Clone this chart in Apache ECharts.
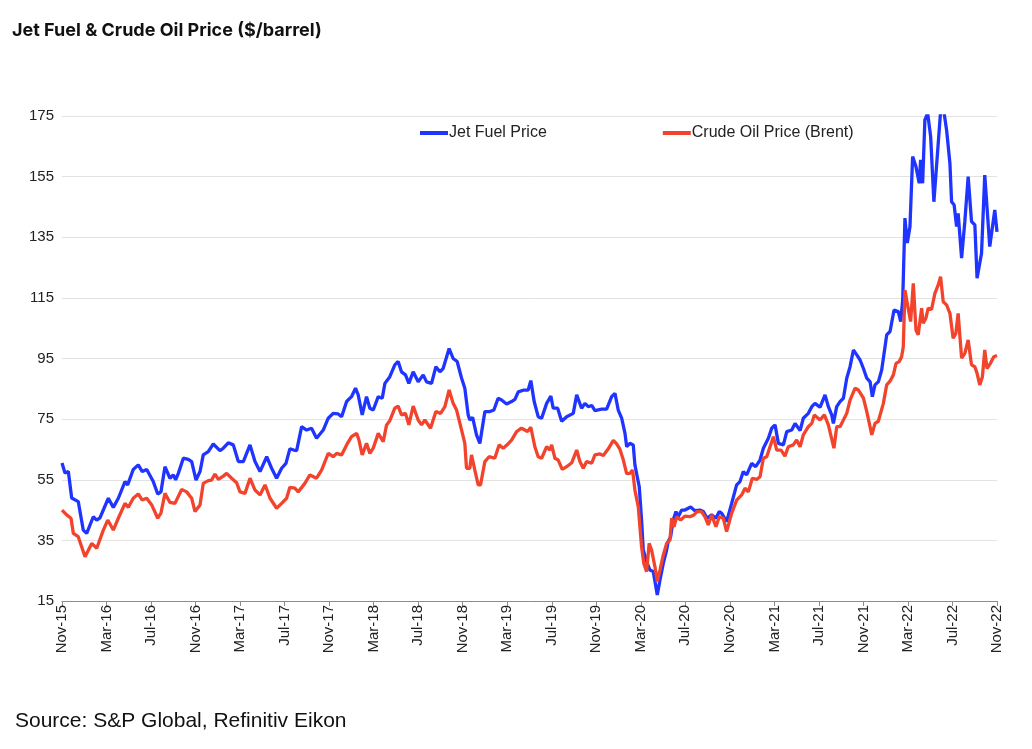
<!DOCTYPE html>
<html>
<head>
<meta charset="utf-8">
<script src="https://cdn.jsdelivr.net/npm/echarts@6/dist/echarts.min.js"></script>
<style>
html,body{margin:0;padding:0;background:#fff;}
#chart{width:1032px;height:749px;}
</style>
</head>
<body>
<div id="chart"></div>
<script>
// x = months since Nov-2015
const tickLabels = ['Nov-15','Mar-16','Jul-16','Nov-16','Mar-17','Jul-17','Nov-17','Mar-18','Jul-18','Nov-18','Mar-19','Jul-19','Nov-19','Mar-20','Jul-20','Nov-20','Mar-21','Jul-21','Nov-21','Mar-22','Jul-22','Nov-22'];

const jetFuel = [
[0,60.5],[0.27,57.2],[0.57,57.7],[0.87,49],[1.46,47.8],[1.91,38.4],[2.22,37.3],[2.81,42.8],[3.12,41.7],[3.41,42.4],
[4.16,48.9],[4.61,45.9],[5.06,48.9],[5.66,54.4],[5.9,53.3],[6.4,58.4],[6.85,59.9],[7.21,57.7],[7.61,58.4],[8.2,54.4],
[8.6,50.3],[8.89,51],[9.25,59.3],[9.7,55.5],[10.0,56.6],[10.21,55],[10.45,57.1],[10.9,62.1],[11.35,61.7],[11.65,61],
[12.04,54.9],[12.4,57.7],[12.69,63.2],[13.14,64.3],[13.59,66.8],[14.19,64.6],[14.49,65.4],[14.94,67.2],[15.39,66.5],[15.84,61],
[16.29,61],[16.89,66.5],[17.34,61],[17.79,57.7],[18.39,62.6],[18.83,58.8],[19.28,55.5],[19.73,58.8],[20.12,60.4],[20.47,65.2],
[20.83,64.8],[21.08,64.6],[21.53,72.5],[21.97,71.4],[22.42,72],[22.87,68.7],[23.47,71.4],[23.92,75.3],[24.36,76.9],[24.81,76.7],
[25.12,75.8],[25.57,80.8],[26.01,82.4],[26.37,85.2],[26.61,83],[26.97,76.4],[27.36,82.4],[27.66,78.6],[27.96,78],[28.41,82.4],
[28.77,81.9],[29.01,86.8],[29.45,89],[29.9,92.9],[30.2,94],[30.5,90.6],[30.86,89.6],[31.16,86.8],[31.55,90.6],[32.0,87.3],
[32.45,89.6],[32.75,87.3],[33.2,86.8],[33.59,92.3],[33.95,90.6],[34.24,91.7],[34.78,98.3],[35.14,95],[35.5,94],[35.9,88.5],
[36.19,85.2],[36.49,76.4],[36.64,74.7],[36.89,75.6],[37.24,69.8],[37.54,67],[37.99,77.5],[38.44,77.5],[38.8,78],[39.18,81.9],
[39.49,81.3],[39.94,80],[40.39,80.8],[40.69,81.5],[40.99,84],[41.5,84.6],[41.88,84.6],[42.12,87.7],[42.42,80.8],[42.78,75.8],
[43.09,75.3],[43.54,80.2],[43.92,82.6],[44.13,78.6],[44.53,78.6],[44.89,74.3],[45.34,75.8],[45.93,76.9],[46.24,83],[46.68,78.6],
[46.98,80.2],[47.28,79.1],[47.59,79.5],[47.88,77.8],[48.48,78.3],[48.93,78.3],[49.38,82.4],[49.68,83.5],[49.97,78],[50.28,75.3],
[50.58,70.3],[50.73,65.9],[51.02,67],[51.32,66.5],[51.47,59.9],[51.68,56],[51.86,52.7],[52.07,41.7],[52.22,31.8],[52.52,28],
[52.82,25.2],[53.12,24.7],[53.48,17],[53.72,21.9],[54.02,27.4],[54.32,31.8],[54.46,34.6],[54.68,36.2],[54.91,41.7],[55.16,44.5],
[55.36,42.8],[55.67,45],[55.96,45],[56.26,45.6],[56.48,46],[56.86,44.8],[57.31,45],[57.62,44.5],[57.96,42.3],[58.36,43.4],
[58.75,42.3],[59.05,44.5],[59.27,43.9],[59.71,41.2],[60.16,47.2],[60.61,53.3],[60.91,54.4],[61.21,57.7],[61.51,56.6],[61.96,60.4],
[62.32,59.3],[62.71,61.5],[63.01,65.4],[63.46,68.7],[63.76,72],[64.06,73.1],[64.36,67],[64.81,66.5],[65.11,70.9],[65.56,71.4],
[65.86,73.6],[66.31,71.2],[66.6,75.3],[67.05,76.9],[67.36,79.1],[67.65,80.2],[68.1,78.9],[68.55,83],[68.85,79.1],[69.15,76.4],
[69.3,73.6],[69.6,79.1],[69.9,80.8],[70.2,81.9],[70.5,88.5],[70.8,92.3],[71.1,97.8],[71.4,96.2],[71.7,94.5],[72.0,91.7],
[72.3,88.5],[72.6,87.3],[72.8,82.4],[73.04,86.3],[73.34,87.3],[73.64,91.2],[73.94,98.9],[74.09,102.8],[74.39,103.9],[74.75,111],
[75.13,110.5],[75.35,107.2],[75.53,114.3],[75.73,141.3],[75.94,133.1],[76.18,138.5],[76.42,161.6],[76.72,158.3],[77.01,152.8],[77.14,160.5],
[77.32,152.8],[77.52,173.7],[77.77,175.9],[78.04,168.2],[78.33,146.7],[78.72,166],[78.93,176.4],[79.23,176.4],[79.47,170.4],[79.77,159.4],
[79.92,146.7],[80.15,145.6],[80.37,138.5],[80.51,142.9],[80.82,128.1],[81.11,140.2],[81.41,155],[81.71,140.2],[82.01,139.1],[82.21,121.5],
[82.61,129.7],[82.9,155.5],[83.35,131.9],[83.8,144],[84,136.8]
];

const brent = [
[0,45],[0.42,43.4],[0.81,42.3],[1.02,37.3],[1.46,36.2],[2.07,29.6],[2.67,34],[3.12,32.4],[3.71,38.4],[4.11,41.7],
[4.61,38.4],[5.06,42.3],[5.66,47.2],[5.96,45.9],[6.4,48.9],[6.85,50.3],[7.21,48.3],[7.61,48.9],[8.06,46.7],[8.6,42.3],
[8.89,44],[9.25,50.5],[9.7,47.5],[10.15,47.2],[10.75,51.8],[11.2,51],[11.65,48.9],[11.95,44.5],[12.4,46.7],[12.69,53.8],
[13.14,54.7],[13.44,54.9],[13.74,56.9],[14.04,55.1],[14.49,56.2],[14.79,57.1],[15.24,55.5],[15.69,54],[15.99,51],[16.44,50.5],
[16.89,55.5],[17.34,51.6],[17.79,50],[18.24,53.3],[18.69,48.9],[19.28,45.6],[19.73,47.2],[20.18,48.9],[20.47,52.5],[20.92,52.2],
[21.22,51],[21.82,53.8],[22.27,56.6],[22.87,55.5],[23.32,58.2],[23.92,63.7],[24.36,62.6],[24.67,63.7],[25.12,63.2],[25.57,66.5],
[26.01,69.2],[26.47,70.3],[26.68,68.1],[26.97,63.2],[27.36,67],[27.66,63.7],[27.96,65.4],[28.41,70.3],[28.86,67.6],[29.16,73.1],
[29.45,74.5],[29.9,78.6],[30.2,79.3],[30.5,76.4],[30.86,76.9],[31.16,73.1],[31.55,79.3],[32.0,74.7],[32.3,73.1],[32.6,74.7],
[33.11,72],[33.59,77.5],[34.01,76.9],[34.4,79.1],[34.78,84.6],[35.14,80.2],[35.45,78],[35.9,71.4],[36.19,67],[36.34,58.8],
[36.64,58.8],[36.79,63.2],[37.09,58.2],[37.39,53.3],[37.6,53.3],[37.99,61],[38.37,62.6],[38.88,62.1],[39.27,66.5],[39.63,65.4],
[39.99,66.5],[40.39,68.1],[40.84,70.9],[41.28,72],[41.58,71.4],[41.82,70.9],[42.12,72.3],[42.48,65.9],[42.78,62.6],[43.09,62.1],
[43.54,65.9],[43.83,64.8],[43.99,66.5],[44.28,62.1],[44.58,61.5],[44.94,58.4],[45.34,59.3],[45.79,60.6],[46.24,64.8],[46.53,61],
[46.83,58.8],[47.13,61],[47.59,60.5],[47.88,63.2],[48.33,63.5],[48.63,63],[49.08,65.2],[49.53,68],[49.83,66.8],[50.13,65],
[50.43,61.5],[50.73,57],[51.02,57.1],[51.26,58.2],[51.47,51.6],[51.77,46.1],[52.07,32.9],[52.27,27.4],[52.52,24.7],[52.75,34],
[52.97,31.8],[53.27,26.3],[53.48,21.4],[53.72,25.2],[54.02,30.2],[54.32,34],[54.62,35.1],[54.77,42.3],[54.98,39.5],[55.22,42.8],
[55.58,41.7],[55.96,43],[56.41,42.8],[56.77,43.4],[57.06,44.5],[57.46,44.5],[57.76,42.8],[58.06,40.1],[58.36,43.4],[58.75,39.5],
[59.05,42.8],[59.41,42.3],[59.71,37.9],[60.16,43.9],[60.61,48.3],[61.06,50],[61.36,52.2],[61.66,51],[62.02,55.5],[62.41,55.1],
[62.71,56],[63.01,62.1],[63.31,62.6],[63.61,65.9],[63.91,69.2],[64.21,64.8],[64.6,64.8],[64.95,62.8],[65.25,65.9],[65.7,66.5],
[66.0,68.1],[66.31,65.9],[66.6,69.8],[67.05,72.5],[67.36,73.6],[67.59,76.4],[68.1,74.7],[68.49,76.4],[68.85,73.1],[69.15,68.5],
[69.35,65.4],[69.6,72.5],[69.9,72.5],[70.2,74.7],[70.5,76.9],[70.8,81.3],[71.25,85.2],[71.55,84.6],[72.0,81.9],[72.3,77.5],
[72.53,73.6],[72.75,69.8],[73.04,73.6],[73.34,74.3],[73.79,80.2],[74.09,86.3],[74.39,87.5],[74.69,89.6],[74.93,93.4],[75.22,94],
[75.43,95.6],[75.58,98.9],[75.73,117.6],[75.94,113.2],[76.24,107.2],[76.48,119.8],[76.72,104.4],[76.92,102.8],[77.23,111.6],[77.37,106.6],
[77.61,108.3],[77.82,111.6],[78.12,111.2],[78.42,116.5],[78.72,119.3],[78.93,122],[79.17,113.7],[79.47,112.7],[79.77,109.9],[80.06,101.7],
[80.3,103.3],[80.51,109.9],[80.82,95.1],[81.11,96.7],[81.41,101.1],[81.71,92.9],[82.01,92.3],[82.21,90.1],[82.45,86.3],[82.69,89],
[82.9,97.8],[83.1,91.7],[83.41,93.4],[83.71,95.6],[84,96]
];

const chart = echarts.init(document.getElementById('chart'), null, {renderer:'canvas'});
const labelFont = "'Liberation Sans', Arial, sans-serif";
chart.setOption({
  animation: false,
  backgroundColor: '#ffffff',
  title: {
    text: 'Jet Fuel & Crude Oil Price ($/barrel)',
    left: 12, top: 22, padding: 0,
    textStyle: {fontFamily: "Inter, 'Liberation Sans', sans-serif", fontWeight: 'bold', fontSize: 18, color: '#111'}
  },
  graphic: [{
    type: 'text', left: 15, top: 711,
    style: {text: 'Source: S&P Global, Refinitiv Eikon', fontFamily: labelFont, fontSize: 21, fill: '#111'}
  }],
  legend: {
    left: 415, top: 120, itemGap: 116, itemWidth: 28, itemHeight: 4, icon: 'rect',
    textStyle: {fontFamily: labelFont, fontSize: 16, color: '#222', padding: [0,0,0,-4]},
    data: ['Jet Fuel Price', 'Crude Oil Price (Brent)']
  },
  grid: {left: 62, right: 35, top: 116, bottom: 148, containLabel: false},
  xAxis: {
    type: 'value', min: 0, max: 84, interval: 4,
    axisLine: {show: true, lineStyle: {color: '#8c8c8c', width: 1}},
    axisTick: {show: true, length: 5, lineStyle: {color: '#8c8c8c'}},
    splitLine: {show: false},
    axisLabel: {
      rotate: 90, margin: 4, fontFamily: labelFont, fontSize: 15, color: '#222',
      formatter: v => tickLabels[Math.round(v / 4)]
    }
  },
  yAxis: {
    type: 'value', min: 15, max: 175, interval: 20,
    axisLine: {show: false}, axisTick: {show: false},
    splitLine: {lineStyle: {color: '#e2e2e2', width: 1}},
    axisLabel: {margin: 8, fontFamily: labelFont, fontSize: 15, color: '#222'}
  },
  series: [
    {name: 'Jet Fuel Price', type: 'line', data: jetFuel, showSymbol: false, symbol: 'none',
     lineStyle: {color: '#1f35ff', width: 3.3}, itemStyle: {color: '#1f35ff'}},
    {name: 'Crude Oil Price (Brent)', type: 'line', data: brent, showSymbol: false, symbol: 'none',
     lineStyle: {color: '#f2432c', width: 3.3}, itemStyle: {color: '#f2432c'}}
  ]
});
</script>
</body>
</html>
